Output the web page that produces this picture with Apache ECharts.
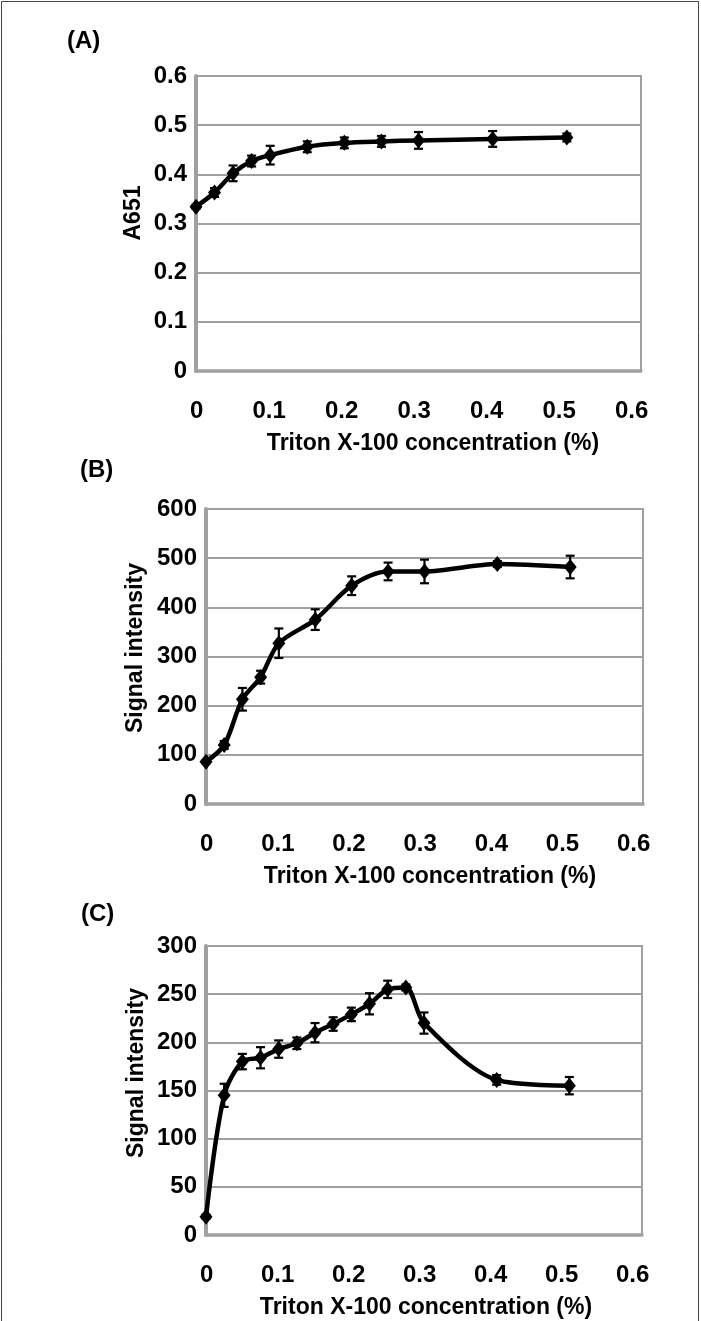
<!DOCTYPE html>
<html>
<head>
<meta charset="utf-8">
<script src="https://cdn.jsdelivr.net/npm/echarts@6/dist/echarts.min.js"></script>
<style>
  html, body { margin: 0; padding: 0; background: #fff; }
  #chart { width: 701px; height: 1321px; }
</style>
</head>
<body>
<div id="chart"></div>
<script>
// Triton X-100 concentration (%)
const concAB = [0, 0.025, 0.05, 0.075, 0.1, 0.15, 0.2, 0.25, 0.3, 0.4, 0.5]
const concC = [0, 0.025, 0.05, 0.075, 0.1, 0.125, 0.15, 0.175, 0.2, 0.225, 0.25, 0.275, 0.3, 0.4, 0.5]

// (A) absorbance at 651 nm
const a651 = [0.334, 0.363, 0.402, 0.427, 0.439, 0.456, 0.464, 0.467, 0.469, 0.472, 0.475]
const a651Err = [0.004, 0.009, 0.016, 0.011, 0.019, 0.011, 0.011, 0.011, 0.017, 0.016, 0.008]

// (B) signal intensity
const signalB = [86, 120, 213, 258, 327, 375, 444, 473, 473, 488, 482]
const signalBErr = [3, 8, 23, 13, 30, 21, 19, 18, 24, 6, 23]

// (C) signal intensity
const signalC = [19, 145, 180, 184, 193, 199, 210, 219, 229, 240, 255, 257, 220, 161, 155]
const signalCErr = [2, 12, 8, 11, 9, 6, 10, 7, 7, 11, 9, 3, 11, 5, 9]

const xTitle = 'Triton X-100 concentration (%)'
const FONT = '"Liberation Sans", Arial, Helvetica, sans-serif'
const GRID_GRAY = '#a0a0a0'

// panel boxes: plot area and y scale
const panels = [
  { tag: '(A)', yName: 'A651', xs: concAB, ys: a651, err: a651Err, yMax: 0.6, yStep: 0.1,
    left: 196, top: 76, width: 445, height: 295, tagPos: [67, 41], yNamePos: [134, 213], xNameX: 433 },
  { tag: '(B)', yName: 'Signal intensity', xs: concAB, ys: signalB, err: signalBErr, yMax: 600, yStep: 100,
    left: 206, top: 509, width: 437, height: 295, tagPos: [80, 470], yNamePos: [136, 648], xNameX: 430 },
  { tag: '(C)', yName: 'Signal intensity', xs: concC, ys: signalC, err: signalCErr, yMax: 300, yStep: 50,
    left: 206, top: 946, width: 436, height: 289, tagPos: [81, 914], yNamePos: [137, 1073], xNameX: 426 }
]

const chart = echarts.init(document.getElementById('chart'), null, { renderer: 'canvas' })

const grid = []
const xAxis = []
const yAxis = []
const series = []
const graphic = [
  {
    type: 'rect',
    shape: { x: 1.5, y: 1.5, width: 697, height: 1360 },
    style: { fill: 'none', stroke: '#444', lineWidth: 1 },
    silent: true
  }
]

function errorBarItem (params, api) {
  const x = api.value(0)
  const lo = api.coord([x, api.value(1)])
  const hi = api.coord([x, api.value(2)])
  const cap = 4.5
  const style = { stroke: '#000', lineWidth: 2.2 }
  return {
    type: 'group',
    children: [
      { type: 'line', shape: { x1: lo[0], y1: lo[1], x2: hi[0], y2: hi[1] }, style },
      { type: 'line', shape: { x1: lo[0] - cap, y1: lo[1], x2: lo[0] + cap, y2: lo[1] }, style },
      { type: 'line', shape: { x1: hi[0] - cap, y1: hi[1], x2: hi[0] + cap, y2: hi[1] }, style }
    ]
  }
}

panels.forEach((p, i) => {
  // plot grid
  grid.push({
    left: p.left, top: p.top, width: p.width, height: p.height,
    show: true, borderColor: GRID_GRAY, borderWidth: 2, backgroundColor: '#fff'
  })
  // label-only grid for the x tick labels (Excel draws them slightly inset)
  grid.push({
    left: p.left + 0.7, top: p.top, width: p.width - 10, height: p.height
  })
  const g = i * 2
  xAxis.push({
    type: 'value', gridIndex: g, min: 0, max: 0.6, interval: 0.1,
    axisLine: { show: true, lineStyle: { color: GRID_GRAY, width: 3.5 } },
    axisTick: { show: false },
    axisLabel: { show: false },
    splitLine: { show: false }
  })
  xAxis.push({
    type: 'value', gridIndex: g + 1, min: 0, max: 0.6, interval: 0.1,
    axisLine: { show: false },
    axisTick: { show: false },
    splitLine: { show: false },
    axisLabel: {
      show: true, margin: 28, color: '#000', fontFamily: FONT, fontWeight: 'bold', fontSize: 24,
      formatter: v => String(+v.toFixed(1))
    }
  })
  yAxis.push({
    type: 'value', gridIndex: g, min: 0, max: p.yMax, interval: p.yStep,
    axisLine: { show: true, lineStyle: { color: GRID_GRAY, width: 4 } },
    axisTick: { show: false },
    splitLine: { show: true, lineStyle: { color: GRID_GRAY, width: 2 } },
    axisLabel: {
      margin: 9, color: '#000', fontFamily: FONT, fontWeight: 'bold', fontSize: 24,
      formatter: v => String(+v.toFixed(1))
    }
  })
  yAxis.push({
    type: 'value', gridIndex: g + 1, min: 0, max: p.yMax, show: false
  })

  series.push({
    type: 'custom',
    xAxisIndex: g, yAxisIndex: g,
    renderItem: errorBarItem,
    data: p.xs.map((x, k) => [x, p.ys[k] - p.err[k], p.ys[k] + p.err[k]]),
    z: 3,
    silent: true
  })
  series.push({
    type: 'line',
    xAxisIndex: g, yAxisIndex: g,
    data: p.xs.map((x, k) => [x, p.ys[k]]),
    smooth: 0.3,
    symbol: 'diamond',
    symbolSize: [13, 16],
    itemStyle: { color: '#000' },
    lineStyle: { color: '#000', width: 4.5 },
    z: 4,
    silent: true
  })

  const textBase = { fill: '#000', fontFamily: FONT, fontWeight: 'bold', fontSize: 23 }
  graphic.push({
    type: 'text', x: p.tagPos[0], y: p.tagPos[1],
    style: Object.assign({}, textBase, { text: p.tag, fontSize: 24, textAlign: 'left', textVerticalAlign: 'middle' })
  })
  graphic.push({
    type: 'text', x: p.yNamePos[0], y: p.yNamePos[1], rotation: Math.PI / 2,
    style: Object.assign({}, textBase, { text: p.yName, textAlign: 'center', textVerticalAlign: 'middle' })
  })
  graphic.push({
    type: 'text', x: p.xNameX, y: p.top + p.height + 73,
    style: Object.assign({}, textBase, { text: xTitle, textAlign: 'center', textVerticalAlign: 'middle' })
  })
})

chart.setOption({
  animation: false,
  backgroundColor: '#fff',
  grid,
  xAxis,
  yAxis,
  series,
  graphic
})
</script>
</body>
</html>
